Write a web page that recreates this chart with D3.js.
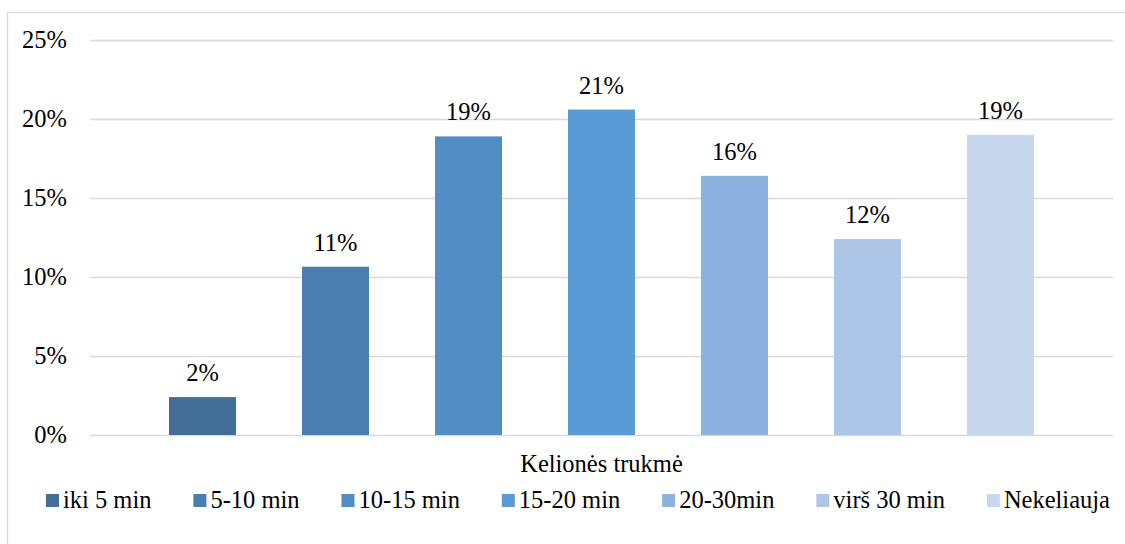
<!DOCTYPE html>
<html>
<head>
<meta charset="UTF-8">
<script src="https://cdnjs.cloudflare.com/ajax/libs/d3/7.8.5/d3.min.js"></script>
<style>
  body { margin: 0; background: #fff; }
  .grid line { stroke: #d9d9d9; stroke-width: 1.3px; }
  .grid .domain { display: none; }
</style>
</head>
<body>
<svg id="chart" width="1125" height="544"></svg>
<script>
// data
var series = ["iki 5 min", "5-10 min", "10-15 min", "15-20 min", "20-30min", "virš 30 min", "Nekeliauja"];
var values = [2.4, 10.65, 18.9, 20.6, 16.4, 12.4, 19.0];
var colors = ["#426e98", "#4a7eb0", "#528dc4", "#5b9bd5", "#8db2df", "#adc5e7", "#c7d8ee"];
var yTicks = [0, 5, 10, 15, 20, 25];
var axisTitle = "Kelionės trukmė";

var FONT = "Liberation Serif";
var FS = 24.5;
var svg = d3.select("#chart");
var margin = {left: 90, right: 12, top: 40, bottom: 109};
var W = 1125, H = 544;

// outer frame
svg.append("rect")
   .attr("x", 7.5).attr("y", 12.5)
   .attr("width", W).attr("height", H)
   .attr("fill", "none").attr("stroke", "#d9d9d9").attr("stroke-width", 1.3);

var x = d3.scaleBand()
    .domain(series)
    .range([margin.left, W - margin.right])
    .paddingInner(0.496)
    .paddingOuter(0.594);

var y = d3.scaleLinear()
    .domain([0, 25])
    .range([H - margin.bottom, margin.top]);

// gridlines
svg.append("g")
   .attr("class", "grid")
   .attr("transform", "translate(" + margin.left + ",0)")
   .call(d3.axisRight(y).tickValues(yTicks).tickSize(W - margin.right - margin.left).tickFormat(""));

// y tick labels
svg.selectAll(".ylab")
   .data(yTicks)
   .enter().append("text")
   .attr("class", "ylab")
   .attr("x", 67)
   .attr("y", function(d) { return y(d) + 8; })
   .attr("text-anchor", "end")
   .attr("font-family", FONT)
   .attr("font-size", FS)
   .text(function(d) { return d + "%"; });

// bars
svg.selectAll(".bar")
   .data(values)
   .enter().append("rect")
   .attr("class", "bar")
   .attr("x", function(d, i) { return x(series[i]); })
   .attr("y", function(d) { return y(d); })
   .attr("width", x.bandwidth())
   .attr("height", function(d) { return y(0) - y(d); })
   .attr("fill", function(d, i) { return colors[i]; });

// value labels
svg.selectAll(".vlab")
   .data(values)
   .enter().append("text")
   .attr("class", "vlab")
   .attr("x", function(d, i) { return x(series[i]) + x.bandwidth() / 2; })
   .attr("y", function(d) { return y(d) - 16; })
   .attr("text-anchor", "middle")
   .attr("font-family", FONT)
   .attr("font-size", FS)
   .text(function(d) { return Math.round(d) + "%"; });

// axis title
svg.append("text")
   .attr("x", (margin.left + W - margin.right) / 2)
   .attr("y", 472)
   .attr("text-anchor", "middle")
   .attr("font-family", FONT)
   .attr("font-size", FS)
   .text(axisTitle);

// legend, spread from x=46 to x=1110
var legend = svg.append("g");
var items = legend.selectAll("g")
   .data(series)
   .enter().append("g");
items.append("rect")
   .attr("width", 13).attr("height", 13)
   .attr("y", 494)
   .attr("fill", function(d, i) { return colors[i]; });
items.append("text")
   .attr("x", 17)
   .attr("y", 508)
   .attr("font-family", FONT)
   .attr("font-size", FS)
   .text(function(d) { return d; });

var widths = [];
items.each(function() {
    widths.push(17 + d3.select(this).select("text").node().getComputedTextLength());
});
var gap = (1110 - 46 - d3.sum(widths)) / (series.length - 1);
var pos = 46;
items.each(function(d, i) {
    d3.select(this).attr("transform", "translate(" + pos + ",0)");
    pos += widths[i] + gap;
});
</script>
</body>
</html>
